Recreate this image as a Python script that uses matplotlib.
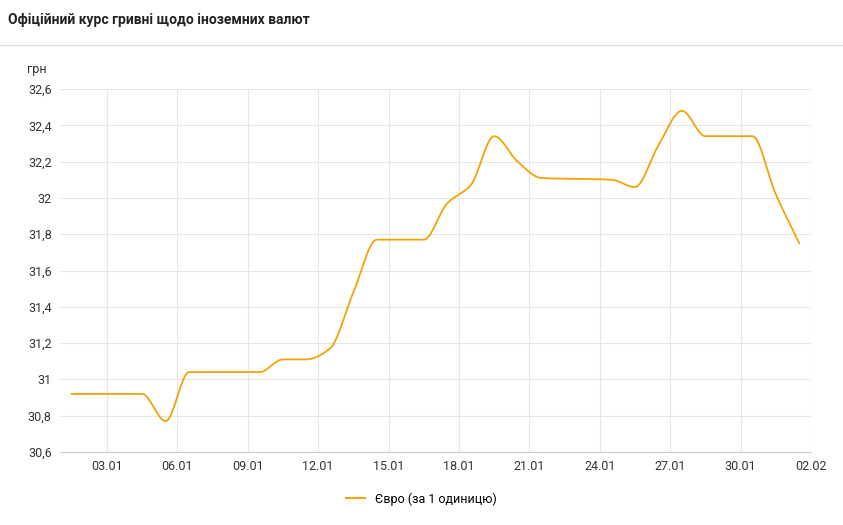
import matplotlib
matplotlib.use("Agg")
import matplotlib.pyplot as plt
import numpy as np
from matplotlib.lines import Line2D

plt.rcParams['font.family'] = ['Roboto', 'DejaVu Sans']

# день січня (з половиною — точка припадає на середину дня на осі)
days = [1.5, 4.5, 5.5, 6.5, 9.5, 10.5, 11.5, 12.5, 13.5, 14.5, 16.5, 17.5, 18.5,
        19.5, 20.5, 21.5, 24.5, 25.5, 26.5, 27.5, 28.5, 30.5, 31.5, 32.5]
eur = [30.92, 30.92, 30.77, 31.04, 31.04, 31.11, 31.11, 31.17, 31.48, 31.77, 31.77,
       31.97, 32.07, 32.34, 32.20, 32.11, 32.10, 32.06, 32.29, 32.48, 32.34, 32.34,
       32.02, 31.75]
tick_days = [3, 6, 9, 12, 15, 18, 21, 24, 27, 30, 33]
tick_labels = ['03.01', '06.01', '09.01', '12.01', '15.01', '18.01', '21.01',
               '24.01', '27.01', '30.01', '02.02']
yticks = [30.6, 30.8, 31, 31.2, 31.4, 31.6, 31.8, 32, 32.2, 32.4, 32.6]


def smooth(x, y, n=20):
    # monotone cubic (Fritsch-Carlson) для плавної лінії
    x = np.asarray(x, float); y = np.asarray(y, float)
    h = np.diff(x); d = np.diff(y) / h
    m = np.zeros_like(y)
    m[0], m[-1] = d[0], d[-1]
    for i in range(1, len(y) - 1):
        if d[i - 1] * d[i] > 0:
            w1 = 2 * h[i] + h[i - 1]; w2 = h[i] + 2 * h[i - 1]
            m[i] = (w1 + w2) / (w1 / d[i - 1] + w2 / d[i])
    xs, ys = [], []
    for i in range(len(h)):
        t = np.linspace(0, 1, n, endpoint=False)
        h00 = 2*t**3 - 3*t**2 + 1; h10 = t**3 - 2*t**2 + t
        h01 = -2*t**3 + 3*t**2; h11 = t**3 - t**2
        xs.append(x[i] + t * h[i])
        ys.append(h00*y[i] + h10*h[i]*m[i] + h01*y[i+1] + h11*h[i]*m[i+1])
    xs.append([x[-1]]); ys.append([y[-1]])
    return np.concatenate(xs), np.concatenate(ys)


fig = plt.figure(figsize=(8.43, 5.25), dpi=100)
ax = fig.add_axes([60/843, 1 - 452/525, 751/843, 363/525])

color = '#f0a30a'
sx, sy = smooth(days, eur)
ax.plot(sx, sy, color=color, lw=1.3)

ax.set_xlim(1, 33)
ax.set_ylim(30.6, 32.6)
ax.set_xticks(tick_days)
ax.set_xticklabels(tick_labels)
ax.set_yticks(yticks)
ax.set_yticklabels([f'{v:g}'.replace('.', ',') for v in yticks])
ax.tick_params(length=0, labelsize=9, colors='#333333', pad=6)
ax.grid(True, color='#e6e6e6', lw=0.8)
for s in ax.spines.values():
    s.set_visible(False)
ax.spines['bottom'].set_visible(True)
ax.spines['bottom'].set_color('#cccccc')

fig.text(27/843, 1 - 70/525, 'грн', fontsize=9, color='#333333', va='center')
fig.text(8/843, 1 - 20/525, 'Офіційний курс гривні щодо іноземних валют',
         fontsize=10, fontweight='bold', color='#222222', va='center')
fig.add_artist(Line2D([0, 1], [1 - 45/525] * 2, color='#dddddd', lw=1))

fig.legend([Line2D([], [], color=color, lw=1.5)], ['Євро (за 1 одиницю)'],
           loc='center', bbox_to_anchor=(0.5, 1 - 499/525), frameon=False,
           fontsize=9, handlelength=1.5)

fig.savefig('out.png', dpi=100, facecolor='white')
